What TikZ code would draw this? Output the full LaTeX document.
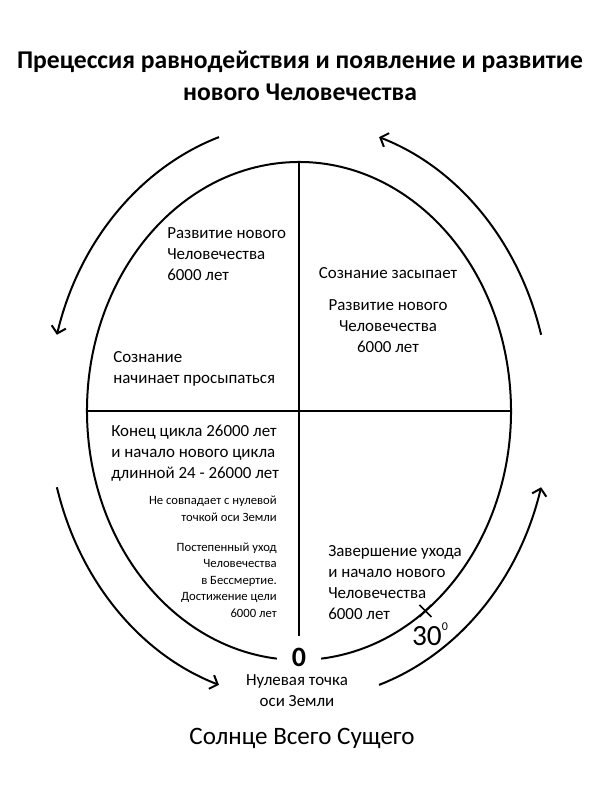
\documentclass[tikz,border=0pt]{standalone}
\usepackage{fontspec}
\setmainfont{Carlito}
\usetikzlibrary{arrows.meta}
\begin{document}
\begin{tikzpicture}[x=0.75pt,y=0.75pt,
  line/.style={line width=1.5pt},
  orbit/.style={line width=1.5pt,-{Straight Barb[length=5pt,width=11pt,line width=1.5pt]}},
  body/.style={inner sep=0pt,font=\fontsize{12.7}{15.75}\selectfont},
  small/.style={inner sep=0pt,font=\fontsize{9.5}{12.4}\selectfont,align=right},
]
\useasboundingbox (0,0) rectangle (600,800);
\coordinate (C) at (299,389);
% inner ellipse with gap at bottom
\draw[line] (C) ++(276:212 and 249) coordinate (gapR)
  arc[start angle=276,end angle=624,x radius=212,y radius=249] coordinate (gapL);
\path (C) ++(90:212 and 249) coordinate (top);
\path (C) ++(180:212 and 249) coordinate (W);
\path (C) ++(0:212 and 249) coordinate (E);
\coordinate (vend) at (299,164);
\draw[line width=1.3pt] (top) -- (vend);
\draw[line width=1.3pt] (W) -- (E);
% outer arcs
\draw[orbit] (C) ++(108.6:251 and 289) coordinate (o1)
  arc[start angle=108.6,end angle=164.7,x radius=251,y radius=289];
\draw[orbit] (C) ++(195.3:251 and 289) coordinate (o2)
  arc[start angle=195.3,end angle=251.4,x radius=251,y radius=289];
\draw[orbit] (C) ++(288.6:251 and 289) coordinate (o3)
  arc[start angle=288.6,end angle=344.7,x radius=251,y radius=289];
\draw[orbit] (C) ++(15.3:251 and 289) coordinate (o4)
  arc[start angle=15.3,end angle=71.4,x radius=251,y radius=289];
% X mark at 30 deg
\path (C) ++(-53.4:212 and 249) coordinate (X);
\draw[line width=1.3pt] (X) ++(-6,6) -- ++(12,-12) (X) ++(-6,-6) -- ++(12,12);
% texts
\node[font=\fontsize{19.2}{24}\selectfont\bfseries,align=center] (title) at (300,724)
  {Прецессия равнодействия и появление и развитие\\нового Человечества};
\node[body,anchor=west,align=left] (tl1) at (167,546) {Развитие нового\\Человечества\\6000 лет};
\node[body,anchor=west,align=left] (tl2) at (113,431.5) {Сознание\\начинает просыпаться};
\node[body] (tr1) at (388,527) {Сознание засыпает};
\node[body,align=center] (tr2) at (388,474) {Развитие нового\\Человечества\\6000 лет};
\node[body,anchor=west,align=left] (bl1) at (111,347) {Конец цикла 26000 лет\\и начало нового цикла\\длинной 24 - 26000 лет};
\node[small,anchor=east] (bl2) at (277,291) {Не совпадает с нулевой\\точкой оси Земли};
\node[small,anchor=east] (bl3) at (277,220) {Постепенный уход\\Человечества\\в Бессмертие.\\Достижение цели\\6000 лет};
\node[body,anchor=west,align=left] (br1) at (328,217.5) {Завершение ухода\\и начало нового\\Человечества\\6000 лет};
\node[font=\fontsize{21}{24}\selectfont\bfseries] (zero) at (299,143) {0};
\node[body,align=center] (zlab) at (297,109.5) {Нулевая точка\\оси Земли};
\node[font=\fontsize{22}{24}\selectfont,inner sep=0pt] (deg) at (430,166) {30\raisebox{1.1ex}{\fontsize{9}{9}\selectfont 0}};
\node[font=\fontsize{18.8}{22}\selectfont] (sun) at (302,62) {Солнце Всего Сущего};
\end{tikzpicture}
\end{document}
